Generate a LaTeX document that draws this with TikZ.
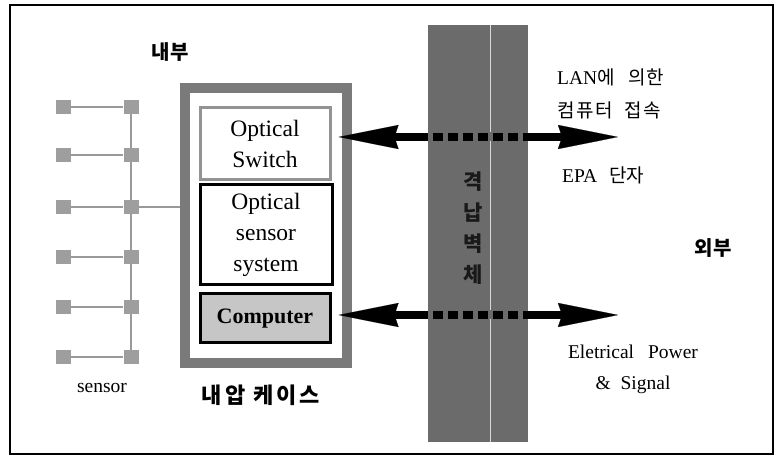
\documentclass[tikz,border=0pt]{standalone}
\usepackage{fontspec}
\setmainfont{Liberation Serif}
\newfontfamily\kr{Noto Sans CJK KR}
\newfontfamily\krsp[LetterSpace=8]{Noto Sans CJK KR}
\newfontfamily\krwide[LetterSpace=14]{Noto Sans CJK KR}
\usetikzlibrary{arrows.meta}
\definecolor{wallc}{gray}{0.42}
\definecolor{framec}{gray}{0.48}
\definecolor{sqc}{gray}{0.62}
\tikzset{
  sq/.style={fill=sqc, minimum width=15pt, minimum height=14pt, inner sep=0pt},
  sline/.style={draw=gray!80, line width=1.1pt},
  box/.style={minimum width=130pt, align=center, inner sep=0pt, font=\fontsize{23.5}{31}\selectfont},
  bigarrow/.style={line width=8pt, {Stealth[length=60pt,width=24pt,inset=4pt,line width=0.1pt]}-{Stealth[length=60pt,width=24pt,inset=4pt,line width=0.1pt]}},
  gaps/.style={draw=wallc, line width=9pt, dash pattern=on 5pt off 10pt},
  lat/.style={font=\fontsize{19.5}{24}\selectfont, inner sep=0pt},
  krlab/.style={font=\kr\bfseries\fontsize{20}{24}\selectfont, inner sep=0pt}
}
\begin{document}
\begin{tikzpicture}[x=1pt,y=-1pt]
\useasboundingbox (0,0) rectangle (780,457);
\fill[white] (0,0) rectangle (780,457);
% outer border
\node[draw=black, line width=2.5pt, minimum width=763pt, minimum height=449pt, inner sep=0pt] (frame) at (391.5,229.5) {};
% wall
\node[fill=wallc, minimum width=100pt, minimum height=417pt, inner sep=0pt] (wall) at (478,233.5) {};
\draw[white!70!gray, line width=1pt] (wall.north) ++(12,0) coordinate (wl1) -- (wall.south -| wl1);
\node[align=center, font=\kr\bfseries\fontsize{21}{31}\selectfont, text=black!90] (walltxt) at (473,228) {격\\납\\벽\\체};
% case
\node[draw=framec, line width=10pt, minimum width=162pt, minimum height=275pt, inner sep=0pt] (case) at (266,225.5) {};
% boxes
\node[box, draw=gray!85, line width=3pt, minimum height=72pt] (sw) at (265,144) {Optical\\Switch};
\node[box, draw=black, line width=3pt, minimum height=100pt, minimum width=132pt] (oss) at (266,235) {Optical\\sensor\\system};
\node[box, draw=black, line width=3pt, fill=gray!45, minimum height=49pt, font=\bfseries\fontsize{22}{26}\selectfont] (comp) at (265,318.5) {Computer};
% sensors
\foreach \i/\y in {1/107,2/155,3/207,4/257,5/307,6/357}{
  \node[sq] (l\i) at (63,\y) {};
  \node[sq] (r\i) at (131,\y) {};
  \draw[sline] (l\i.east) -- (r\i.west);
}
\foreach \a/\b in {1/2,2/3,3/4,4/5,5/6}{
  \draw[sline] (r\a.south) -- (r\b.north);
}
\draw[sline] (r3.east) -- (r3.east -| case.west);
% arrows
\coordinate (lanend) at (618,137);
\coordinate (pwrend) at (618,315);
\draw[bigarrow] ([xshift=7pt]sw.east |- lanend) -- (lanend);
\draw[bigarrow] ([xshift=7pt]comp.east |- pwrend) -- (pwrend);
\draw[gaps] (wall.west |- lanend) -- (wall.east |- lanend);
\draw[gaps] (wall.west |- pwrend) -- (wall.east |- pwrend);
% labels
\node[krlab] (nae) at (170,52) {내부};
\node[krlab] (oe) at (713,248) {외부};
\node[font=\krwide\bfseries\fontsize{22}{24}\selectfont, inner sep=0pt] (caselab) at (261,395) {내압\hspace{8pt}케이스};
\node[lat] (sens) at (102,388) {sensor};
\node[lat, anchor=west] (lan1) at (557,77) {LAN{\kr\fontsize{19}{22}\selectfont 에\hspace{14pt}의한}};
\node[lat, anchor=west] (lan2) at (557,110) {{\krsp\fontsize{19}{22}\selectfont 컴퓨터\hspace{12pt}접속}};
\node[lat, anchor=west] (epa) at (562,175) {EPA\hspace{12pt}{\kr\fontsize{19}{22}\selectfont 단자}};
\node[lat] (ep1) at (633,352) {Eletrical\hspace{14pt}Power};
\node[lat] (ep2) at (633,385) {\&\hspace{10pt}Signal};
\end{tikzpicture}
\end{document}
